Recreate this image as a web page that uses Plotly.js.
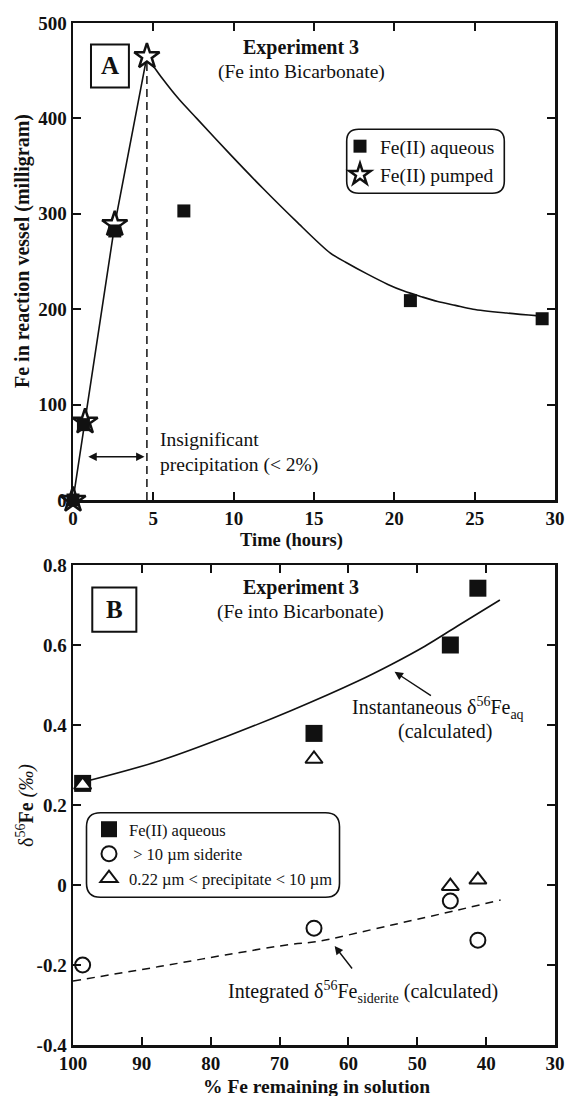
<!DOCTYPE html>
<html><head><meta charset="utf-8">
<script src="https://cdn.plot.ly/plotly-3.0.1.min.js"></script>
<style>html,body{margin:0;padding:0;background:#fff}</style>
</head><body><div id="chart" style="width:568px;height:1096px"></div>
<script>
// ---------- Panel A : Fe in reaction vessel vs time ----------
const pumpedTime = [0, 0.75, 2.6, 4.6];
const pumpedFe = [0, 82, 289, 465];
const aqueousTime = [0, 0.65, 2.6, 6.9, 21.0, 29.2];
const aqueousFe = [0, 79, 282, 303, 209, 190];
const decayTime = [4.6, 5.0, 5.6, 6.6, 7.7, 9.8, 11.8, 13.9, 16.0, 17.0, 18.3, 19.6, 20.6, 21.7, 22.7, 23.8, 24.9, 27.0, 29.0];
const decayFe = [465, 455, 441, 420, 400, 362, 327, 292, 259, 249, 237, 226, 219, 213, 208, 204, 200, 196, 193];
const precipLimitTime = [4.6, 4.6];
const precipLimitFe = [0, 465];
const timeTicks = [0, 5, 10, 15, 20, 25, 30];
const feTicks = [0, 100, 200, 300, 400, 500];

// ---------- Panel B : delta56Fe vs % Fe remaining ----------
const aqRemaining = [98.6, 65.0, 45.2, 41.2];
const aqDelta = [0.254, 0.379, 0.600, 0.742];
const sidRemaining = [98.6, 65.0, 45.2, 41.2];
const sidDelta = [-0.200, -0.108, -0.040, -0.138];
const precRemaining = [98.6, 65.0, 45.2, 41.2];
const precDelta = [0.250, 0.315, -0.003, 0.013];
const instRemaining = [98.4, 87.5, 77.9, 68.2, 58.6, 53.7, 48.9, 44.1, 38.0];
const instDelta = [0.258, 0.310, 0.370, 0.437, 0.510, 0.552, 0.597, 0.648, 0.7125];
const integRemaining = [100, 87.5, 77.9, 68.2, 64.8, 53.7, 44.1, 37.9];
const integDelta = [-0.240, -0.204, -0.175, -0.148, -0.142, -0.100, -0.0625, -0.0375];
const remainingTicks = [100, 90, 80, 70, 60, 50, 40, 30];
const deltaTicks = [0.8, 0.6, 0.4, 0.2, 0, -0.2, -0.4];
const deltaTickText = ['0.8', '0.6', '0.4', '0.2', '0', '-0.2', '-0.4'];

const FONT = "'Liberation Serif', 'Times New Roman', serif";
const L = 73, R = 13, T = 23, B = 51, W = 568, H = 1096;
const PW = W - L - R, PH = H - T - B;
const px = v => (v - L) / PW;
const py = v => (H - B - v) / PH;

function rrect(x0, y0, x1, y1, r) {
  const X = v => px(v).toFixed(5), Y = v => py(v).toFixed(5);
  return 'M' + X(x0 + r) + ',' + Y(y0) + ' L' + X(x1 - r) + ',' + Y(y0) +
    ' Q' + X(x1) + ',' + Y(y0) + ' ' + X(x1) + ',' + Y(y0 + r) +
    ' L' + X(x1) + ',' + Y(y1 - r) +
    ' Q' + X(x1) + ',' + Y(y1) + ' ' + X(x1 - r) + ',' + Y(y1) +
    ' L' + X(x0 + r) + ',' + Y(y1) +
    ' Q' + X(x0) + ',' + Y(y1) + ' ' + X(x0) + ',' + Y(y1 - r) +
    ' L' + X(x0) + ',' + Y(y0 + r) +
    ' Q' + X(x0) + ',' + Y(y0) + ' ' + X(x0 + r) + ',' + Y(y0) + ' Z';
}

const traces = [
  {x: pumpedTime, y: pumpedFe, mode: 'lines', line: {color: '#111', width: 1.6}, showlegend: false, hoverinfo: 'skip', xaxis: 'x', yaxis: 'y'},
  {x: decayTime, y: decayFe, mode: 'lines', line: {color: '#111', width: 1.6, shape: 'spline', smoothing: 0.8}, showlegend: false, hoverinfo: 'skip', xaxis: 'x', yaxis: 'y'},
  {x: precipLimitTime, y: precipLimitFe, mode: 'lines', line: {color: '#111', width: 1.5, dash: '8px,5px'}, showlegend: false, hoverinfo: 'skip', xaxis: 'x', yaxis: 'y'},
  {x: pumpedTime, y: pumpedFe, mode: 'markers', name: 'Fe(II) pumped', legend: 'legend', legendrank: 2, cliponaxis: false,
   marker: {symbol: 'star', size: 19, color: 'white', line: {color: '#111', width: 2.5}}, xaxis: 'x', yaxis: 'y'},
  {x: aqueousTime, y: aqueousFe, mode: 'markers', name: 'Fe(II) aqueous', legend: 'legend', legendrank: 1, cliponaxis: false,
   marker: {symbol: 'square', size: 13, color: '#111'}, xaxis: 'x', yaxis: 'y'},

  {x: instRemaining, y: instDelta, mode: 'lines', line: {color: '#111', width: 1.6, shape: 'spline'}, showlegend: false, hoverinfo: 'skip', xaxis: 'x2', yaxis: 'y2'},
  {x: integRemaining, y: integDelta, mode: 'lines', line: {color: '#111', width: 1.5, dash: '8px,6px', shape: 'spline'}, showlegend: false, hoverinfo: 'skip', xaxis: 'x2', yaxis: 'y2'},
  {x: aqRemaining, y: aqDelta, mode: 'markers', name: 'Fe(II) aqueous', legend: 'legend2', cliponaxis: false,
   marker: {symbol: 'square', size: 17, color: '#111'}, xaxis: 'x2', yaxis: 'y2'},
  {x: sidRemaining, y: sidDelta, mode: 'markers', name: '\u00a0> 10 \u00b5m siderite', legend: 'legend2', cliponaxis: false,
   marker: {symbol: 'circle', size: 15, color: 'white', line: {color: '#111', width: 2}}, xaxis: 'x2', yaxis: 'y2'},
  {x: precRemaining, y: precDelta, mode: 'markers', name: '0.22 \u00b5m &lt; precipitate &lt; 10 \u00b5m', legend: 'legend2', cliponaxis: false,
   marker: {symbol: 'triangle-up', size: 15, color: 'white', line: {color: '#111', width: 2}}, xaxis: 'x2', yaxis: 'y2'}
];

const axisCommon = {
  ticks: 'inside', ticklen: 8, tickwidth: 2, tickcolor: '#111',
  showline: true, linewidth: 2.5, linecolor: '#111', mirror: 'ticks',
  showgrid: false, zeroline: false, fixedrange: true,
  tickfont: {family: FONT, size: 19, color: '#111', weight: 'bold'}
};

const ann = [];
function t(text, x, y, size, bold, extra) {
  ann.push(Object.assign({text: bold ? '<b>' + text + '</b>' : text, x: x, y: y, showarrow: false,
    xanchor: 'center', yanchor: 'middle',
    font: {family: FONT, size: size, color: '#111'}}, extra || {}));
}
// Panel A texts
t('Experiment 3', 14.2, 474, 20, true, {xref: 'x', yref: 'y'});
t('(Fe into Bicarbonate)', 14.2, 449, 19.5, false, {xref: 'x', yref: 'y'});
t('A', 2.3, 455, 25, true, {xref: 'x', yref: 'y'});
t('Insignificant<br>precipitation (&lt; 2%)', 5.27, 50.2, 19.5, false, {xref: 'x', yref: 'y', xanchor: 'left', align: 'left'});
ann.push({xref: 'x', yref: 'y', axref: 'x', ayref: 'y', x: 4.45, y: 45.4, ax: 0.86, ay: 45.4, text: '',
  showarrow: true, arrowside: 'end+start', arrowhead: 2, arrowsize: 1.2, arrowwidth: 1.4, arrowcolor: '#111'});
// Panel B texts
t('Experiment 3', 66.9, 0.743, 20, true, {xref: 'x2', yref: 'y2'});
t('(Fe into Bicarbonate)', 67.0, 0.683, 19.5, false, {xref: 'x2', yref: 'y2'});
t('B', 94.0, 0.689, 25, true, {xref: 'x2', yref: 'y2'});
t('Instantaneous \u03b4<sup>56</sup>Fe<sub>aq</sub>', 59.8, 0.442, 20, false, {xref: 'x2', yref: 'y2', xanchor: 'left'});
t('(calculated)', 46.0, 0.383, 20, false, {xref: 'x2', yref: 'y2'});
ann.push({xref: 'x2', yref: 'y2', axref: 'x2', ayref: 'y2', x: 53.3, y: 0.533, ax: 47.8, ay: 0.471, text: '',
  showarrow: true, arrowhead: 2, arrowsize: 1.2, arrowwidth: 1.4, arrowcolor: '#111'});
t('Integrated \u03b4<sup>56</sup>Fe<sub>siderite</sub> (calculated)', 77.8, -0.267, 20, false, {xref: 'x2', yref: 'y2', xanchor: 'left'});
ann.push({xref: 'x2', yref: 'y2', axref: 'x2', ayref: 'y2', x: 62.0, y: -0.1525, ax: 59.3, ay: -0.2125, text: '',
  showarrow: true, arrowhead: 2, arrowsize: 1.2, arrowwidth: 1.4, arrowcolor: '#111'});
// Axis titles
t('Time (hours)', px(291), py(540.5), 18.5, true, {xref: 'paper', yref: 'paper'});
t('Fe in reaction vessel (milligram)', px(22), py(251), 20, true, {xref: 'paper', yref: 'paper', textangle: -90});
t('% Fe remaining in solution', px(316.8), py(1086.5), 19.5, true, {xref: 'paper', yref: 'paper'});
t('\u03b4<sup>56</sup><b>Fe</b> <i>(\u2030)</i>', px(25), py(806), 20, false, {xref: 'paper', yref: 'paper', textangle: -90});

const layout = {
  width: W, height: H,
  margin: {l: L, r: R, t: T, b: B},
  paper_bgcolor: 'white', plot_bgcolor: 'white',
  font: {family: FONT, color: '#111'},
  xaxis: Object.assign({}, axisCommon, {domain: [0, 1], range: [0, 30], anchor: 'y', tickvals: timeTicks}),
  yaxis: Object.assign({}, axisCommon, {domain: [py(500), 1], range: [0, 500], anchor: 'x', tickvals: feTicks}),
  xaxis2: Object.assign({}, axisCommon, {domain: [0, 1], range: [100, 30], anchor: 'y2', tickvals: remainingTicks}),
  yaxis2: Object.assign({}, axisCommon, {domain: [0, py(565)], range: [-0.4, 0.8], anchor: 'x2', tickvals: deltaTicks, ticktext: deltaTickText}),
  legend: {x: px(340), y: py(127), xanchor: 'left', yanchor: 'top', bgcolor: 'rgba(0,0,0,0)', borderwidth: 0,
    font: {family: FONT, size: 19.5, color: '#111'}, tracegroupgap: 0, traceorder: 'normal'},
  legend2: {x: px(89), y: py(812), xanchor: 'left', yanchor: 'top', bgcolor: 'rgba(0,0,0,0)', borderwidth: 0,
    font: {family: FONT, size: 16.5, color: '#111'}, tracegroupgap: 0},
  shapes: [
    {type: 'rect', xref: 'x', yref: 'y', x0: 1.12, x1: 3.48, y0: 432.3, y1: 477.4, line: {color: '#111', width: 2}},
    {type: 'rect', xref: 'x2', yref: 'y2', x0: 97.2, x1: 90.8, y0: 0.633, y1: 0.744, line: {color: '#111', width: 2}},
    {type: 'path', xref: 'paper', yref: 'paper', path: rrect(346.7, 129.3, 504.3, 193.3, 12), line: {color: '#111', width: 1.6}},
    {type: 'path', xref: 'paper', yref: 'paper', path: rrect(86.5, 812.7, 339.5, 897.3, 14), line: {color: '#111', width: 1.6}}
  ],
  annotations: ann,
  showlegend: true
};

Plotly.newPlot('chart', traces, layout, {displayModeBar: false, staticPlot: true});
</script></body></html>
